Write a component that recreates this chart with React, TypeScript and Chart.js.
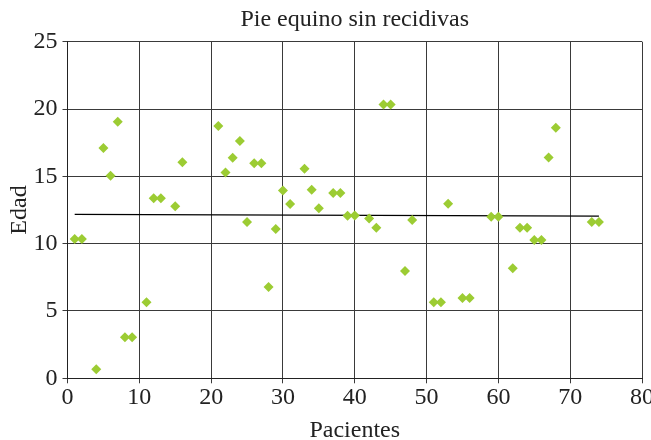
import React, { useEffect, useRef } from "react";
import { Chart, registerables } from "chart.js";

Chart.register(...registerables);

const pacientes = [
  1, 2, 4, 5, 6, 7, 8, 9, 11, 12, 13, 15, 16, 21, 22, 23, 24, 25, 26, 27, 28, 29,
  30, 31, 33, 34, 35, 37, 38, 39, 40, 42, 43, 44, 45, 47, 48, 51, 52, 53, 55, 56,
  59, 60, 62, 63, 64, 65, 66, 67, 68, 73, 74,
];
const edad = [
  10.35, 10.35, 0.67, 17.1, 15.05, 19.05, 3.05, 3.05, 5.65, 13.37, 13.37, 12.77, 16.05,
  18.74, 15.28, 16.39, 17.63, 11.6, 15.97, 15.97, 6.78, 11.09, 13.94, 12.95, 15.57,
  14.01, 12.63, 13.77, 13.77, 12.08, 12.1, 11.86, 11.19, 20.33, 20.33, 7.97, 11.76,
  5.65, 5.65, 12.97, 5.97, 5.97, 12.0, 12.0, 8.17, 11.19, 11.19, 10.27, 10.27, 16.4,
  18.6, 11.6, 11.6,
];
const trendX = [1, 74];
const trendY = [12.18, 12.05];
const xTicks = [0, 10, 20, 30, 40, 50, 60, 70, 80];
const yTicks = [0, 5, 10, 15, 20, 25];

const FONT = "'Liberation Serif', 'DejaVu Serif', serif";

export default function App() {
  const ref = useRef<HTMLCanvasElement | null>(null);

  useEffect(() => {
    if (!ref.current) return;
    const chart = new Chart(ref.current, {
      type: "scatter",
      data: {
        datasets: [
          {
            label: "Edad",
            data: pacientes.map((x, i) => ({ x, y: edad[i] })),
            pointStyle: "rectRot",
            pointRadius: 5,
            pointBackgroundColor: "#9ccc33",
            pointBorderColor: "#9ccc33",
            pointBorderWidth: 0,
            showLine: false,
          },
          {
            label: "Tendencia",
            data: trendX.map((x, i) => ({ x, y: trendY[i] })),
            showLine: true,
            borderColor: "#000000",
            borderWidth: 1.2,
            pointRadius: 0,
          },
        ],
      },
      options: {
        animation: false,
        responsive: false,
        devicePixelRatio: 1,
        layout: { padding: { left: 0, right: 9, top: 0, bottom: 0 } },
        plugins: {
          legend: { display: false },
          tooltip: { enabled: false },
          title: {
            display: true,
            text: "Pie equino sin recidivas",
            color: "#222",
            fullSize: false,
            font: { family: FONT, size: 24, weight: "normal", lineHeight: 1.2 },
            padding: { top: 5.6, bottom: 7.3 },
          },
        },
        scales: {
          x: {
            type: "linear",
            min: 0,
            max: 80,
            afterBuildTicks: (s: any) => {
              s.ticks = xTicks.map((v) => ({ value: v }));
            },
            afterFit: (s: any) => {
              s.height = 61.7;
              s.paddingLeft = 0;
              s.paddingRight = 0;
            },
            ticks: {
              color: "#222",
              font: { family: FONT, size: 24, lineHeight: 1.2 },
              padding: 0,
              maxRotation: 0,
              autoSkip: false,
            },
            grid: { color: "#3a3a3a", lineWidth: 1, tickLength: 5, drawTicks: true },
            border: { color: "#222", width: 1 },
            title: {
              display: true,
              text: "Pacientes",
              color: "#222",
              font: { family: FONT, size: 24, lineHeight: 0.75 },
              padding: { top: 0, bottom: 0 },
            },
          },
          y: {
            type: "linear",
            min: 0,
            max: 25,
            afterBuildTicks: (s: any) => {
              s.ticks = yTicks.map((v) => ({ value: v }));
            },
            afterFit: (s: any) => {
              s.width = 67.5;
            },
            ticks: {
              color: "#222",
              font: { family: FONT, size: 24, lineHeight: 1.2 },
              padding: 5,
              autoSkip: false,
            },
            grid: { color: "#3a3a3a", lineWidth: 1, tickLength: 5, drawTicks: true },
            border: { color: "#222", width: 1 },
            title: {
              display: true,
              text: "Edad",
              color: "#222",
              font: { family: FONT, size: 24, lineHeight: 0.75 },
              padding: { top: 11, bottom: 0 },
            },
          },
        },
      },
    });
    return () => chart.destroy();
  }, []);

  return (
    <div style={{ position: "fixed", left: 0, top: 0, width: 651, height: 440, background: "#fff" }}>
      <canvas ref={ref} width={651} height={440} style={{ width: 651, height: 440, display: "block" }} />
    </div>
  );
}
